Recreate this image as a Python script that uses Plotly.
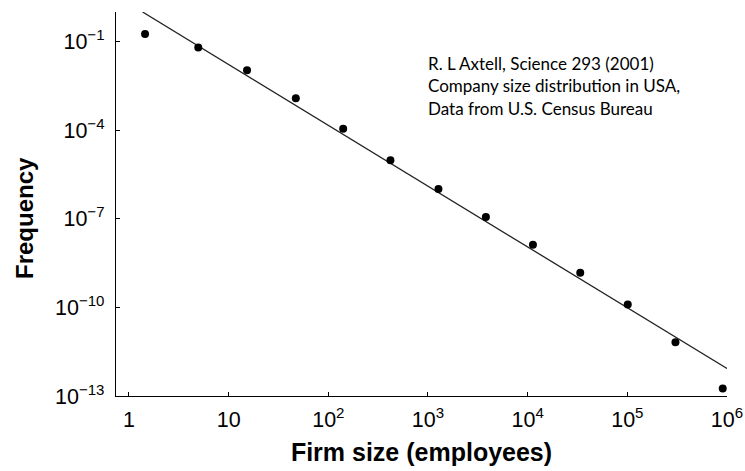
import plotly.graph_objects as go

# Firm size bins (employees) and their frequency, U.S. Census data
firm_size = [1.45, 4.96, 15.3, 47.2, 141, 420, 1274, 3810, 11300, 33700, 101000, 304000, 906000]
frequency = [1.8e-1, 6.3e-2, 1.07e-2, 1.2e-3, 1.12e-4, 9.5e-6, 1.02e-6,
             1.15e-7, 1.32e-8, 1.48e-9, 1.26e-10, 6.6e-12, 1.78e-13]

# Power-law fit endpoints (slope about -2.06 on log-log axes)
fit_x = [1.37, 1.0e6]
fit_y = [1.0, 8.5e-13]

x_tickvals = [1, 10, 1e2, 1e3, 1e4, 1e5, 1e6]
x_ticktext = ["1", "10", "10<sup>2</sup>", "10<sup>3</sup>", "10<sup>4</sup>",
              "10<sup>5</sup>", "10<sup>6</sup>"]
y_tickvals = [1e-1, 1e-4, 1e-7, 1e-10, 1e-13]
y_ticktext = ["10<sup>\u22121</sup>", "10<sup>\u22124</sup>", "10<sup>\u22127</sup>",
              "10<sup>\u221210</sup>", "10<sup>\u221213</sup>"]

note_lines = ["R. L Axtell, Science 293 (2001)",
              "Company size distribution in USA,",
              "Data from U.S. Census Bureau"]

base_font = "Liberation Sans, Arial, Helvetica, sans-serif"

W, H = 745, 471
M = dict(l=116, r=18, t=12, b=75)
plot_w = W - M["l"] - M["r"]
plot_h = H - M["t"] - M["b"]

fig = go.Figure()
fig.add_trace(go.Scatter(
    x=fit_x, y=fit_y, mode="lines",
    line=dict(color="#222222", width=1.3),
    hoverinfo="skip", showlegend=False,
))
fig.add_trace(go.Scatter(
    x=firm_size, y=frequency, mode="markers",
    marker=dict(color="black", size=8, symbol="circle"),
    showlegend=False,
))

# Source note, one annotation per line
for i, line in enumerate(note_lines):
    fig.add_annotation(
        x=0.508, y=0.867 - i * 0.0591, xref="paper", yref="paper",
        xanchor="left", yanchor="middle", showarrow=False,
        text=line, font=dict(family="Lato, Open Sans, sans-serif", size=17, color="black"),
    )

# Vertical axis title
fig.add_annotation(
    x=(24 - M["l"]) / plot_w, y=1 - (218 - M["t"]) / plot_h,
    xref="paper", yref="paper", xanchor="center", yanchor="middle",
    showarrow=False, text="<b>Frequency</b>", textangle=-90,
    font=dict(family=base_font, size=24, color="black"),
)

fig.update_xaxes(
    type="log", range=[-0.13, 6.0], automargin=False,
    tickvals=x_tickvals, ticktext=x_ticktext,
    ticks="inside", ticklen=4, tickwidth=1, tickcolor="black",
    showline=True, linecolor="black", linewidth=1.4,
    showgrid=False, zeroline=False,
    tickfont=dict(family=base_font, size=21.5, color="black"),
    ticklabelstandoff=4,
    title=dict(text="<b>Firm size (employees)</b>", standoff=12,
               font=dict(family=base_font, size=25, color="black")),
)
fig.update_yaxes(
    type="log", range=[-13, 0.0], automargin=False,
    tickvals=y_tickvals, ticktext=y_ticktext,
    ticks="inside", ticklen=4, tickwidth=1, tickcolor="black",
    showline=True, linecolor="black", linewidth=1.4,
    showgrid=False, zeroline=False,
    tickfont=dict(family=base_font, size=21.5, color="black"),
    ticklabelstandoff=6,
)

fig.update_layout(
    width=W, height=H,
    margin=M,
    plot_bgcolor="white", paper_bgcolor="white",
)

fig.write_html("out.html")
